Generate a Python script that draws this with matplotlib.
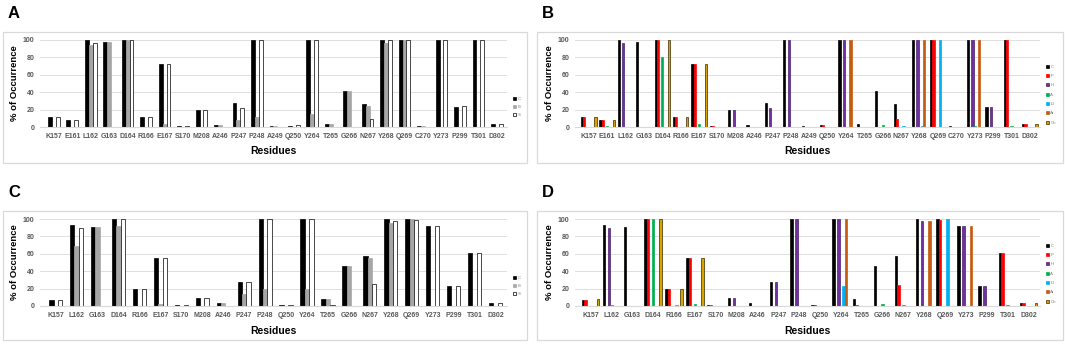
import matplotlib.pyplot as plt
from matplotlib.patches import Rectangle
import numpy as np

plt.rcParams['font.family'] = ['Liberation Sans', 'DejaVu Sans']

# residues for panels A/B and C/D
res_ab = ["K157", "E161", "L162", "G163", "D164", "R166", "E167", "S170", "M208", "A246",
          "P247", "P248", "A249", "Q250", "Y264", "T265", "G266", "N267", "Y268", "Q269",
          "C270", "Y273", "P299", "T301", "D302"]
res_cd = ["K157", "L162", "G163", "D164", "R166", "E167", "S170", "M208", "A246", "P247",
          "P248", "Q250", "Y264", "T265", "G266", "N267", "Y268", "Q269", "Y273", "P299",
          "T301", "D302"]

# panel A: contact / backbone / side chain
a_C = [11, 8, 100, 98, 100, 12, 72, 1, 20, 2, 28, 100, 1, 1, 100, 3, 41, 26, 100, 100, 1, 100, 23, 100, 3]
a_B = [0, 0, 94, 98, 100, 0, 3, 0, 0, 2, 8, 11, 1, 0, 15, 3, 41, 24, 97, 100, 1, 0, 0, 0, 0]
a_S = [11, 8, 96, 0, 100, 12, 72, 1, 20, 0, 22, 100, 0, 2, 100, 0, 0, 9, 100, 100, 0, 100, 24, 100, 3]

# panel B: interaction types
b_C = [11, 8, 100, 98, 100, 12, 72, 1, 20, 2, 28, 100, 1, 2, 100, 3, 41, 26, 100, 100, 1, 100, 23, 100, 3]
b_P = [11, 8, 0, 0, 100, 12, 72, 1, 0, 0, 0, 0, 0, 2, 0, 0, 0, 9, 0, 100, 0, 0, 0, 100, 3]
b_H = [0, 0, 96, 0, 0, 0, 0, 0, 20, 0, 22, 100, 0, 0, 100, 0, 0, 0, 100, 0, 0, 100, 23, 0, 0]
b_A = [0, 1, 0, 0, 81, 0, 3, 0, 0, 0, 0, 0, 0, 0, 0, 0, 2, 0, 0, 0, 0, 1, 0, 1, 0]
b_D = [0, 0, 0, 0, 0, 0, 0, 0, 0, 0, 0, 0, 0, 0, 0, 0, 0, 1, 1, 100, 0, 0, 0, 0, 0]
b_Ar = [0, 0, 0, 0, 0, 0, 0, 0, 0, 0, 0, 0, 0, 0, 100, 0, 0, 0, 100, 0, 0, 100, 0, 0, 0]
b_Ch = [11, 8, 0, 0, 100, 12, 72, 0, 0, 0, 0, 0, 0, 0, 0, 0, 0, 0, 0, 0, 0, 0, 0, 0, 3]

# panel C: contact / backbone / side chain
c_C = [7, 93, 91, 100, 20, 55, 1, 9, 3, 28, 100, 1, 100, 8, 46, 58, 100, 100, 92, 23, 61, 3]
c_B = [0, 69, 91, 92, 0, 2, 0, 0, 3, 14, 20, 0, 20, 8, 46, 55, 95, 100, 0, 0, 0, 0]
c_S = [7, 90, 0, 100, 20, 55, 1, 9, 0, 28, 100, 1, 100, 1, 0, 25, 98, 99, 92, 23, 61, 3]

# panel D: interaction types
d_C = [7, 93, 91, 100, 20, 55, 1, 9, 3, 28, 100, 1, 100, 8, 46, 58, 100, 100, 92, 23, 61, 3]
d_P = [7, 0, 0, 100, 20, 55, 1, 0, 0, 0, 0, 1, 0, 1, 0, 24, 0, 99, 0, 0, 61, 3]
d_H = [0, 90, 0, 0, 0, 0, 0, 9, 0, 28, 100, 0, 100, 0, 0, 0, 98, 0, 92, 23, 0, 0]
d_A = [0, 1, 0, 100, 0, 2, 0, 0, 0, 0, 0, 0, 0, 0, 2, 1, 0, 0, 0, 0, 1, 0]
d_D = [0, 0, 0, 0, 1, 0, 0, 0, 0, 0, 0, 0, 23, 0, 0, 0, 0, 100, 0, 0, 0, 0]
d_Ar = [0, 0, 0, 0, 0, 0, 0, 0, 0, 0, 0, 0, 100, 0, 0, 0, 98, 0, 92, 0, 0, 0]
d_Ch = [8, 0, 0, 100, 20, 55, 0, 0, 0, 0, 0, 0, 0, 0, 0, 0, 0, 0, 0, 0, 0, 3]

labels3 = ["C", "B", "S"]
styles3 = [dict(color="black", edgecolor="black"),
           dict(color="#a6a6a6", edgecolor="#a6a6a6"),
           dict(color="white", edgecolor="black")]
labels7 = ["C", "P", "H", "A", "D", "Ar", "Ch"]
styles7 = [dict(color="black", edgecolor="black"),
           dict(color="#ff0000", edgecolor="#ff0000"),
           dict(color="#7030a0", edgecolor="#4b1f6e"),
           dict(color="#00b050", edgecolor="#00b050"),
           dict(color="#00b0f0", edgecolor="#00b0f0"),
           dict(color="#c55a11", edgecolor="#c55a11"),
           dict(color="#d9a300", edgecolor="#3a2a00")]

fig = plt.figure(figsize=(10.65, 3.44), dpi=100)
W, H = 1065, 344


def panel(rect_px, box_px, letter, cats, series, labels, styles, width, legend_y):
    x0, y0, x1, y1 = rect_px
    ax = fig.add_axes([x0 / W, 1 - y1 / H, (x1 - x0) / W, (y1 - y0) / H])
    bx0, by0, bx1, by1 = box_px
    fig.patches.append(Rectangle((bx0 / W, 1 - by1 / H), (bx1 - bx0) / W, (by1 - by0) / H,
                                 transform=fig.transFigure, fill=False,
                                 edgecolor="#d9d9d9", linewidth=0.9))
    fig.text((bx0 + 5) / W, 1 - (by0 - 26) / H, letter, fontsize=12, fontweight="bold",
             va="top", ha="left")
    x = np.arange(len(cats))
    n = len(series)
    for i, (vals, lab, st) in enumerate(zip(series, labels, styles)):
        ax.bar(x + (i - (n - 1) / 2) * width, vals, width, label=lab,
               linewidth=0.5, **st)
    ax.set_ylim(0, 100)
    ax.set_xlim(-0.75, len(cats) - 0.45)
    ax.set_yticks(range(0, 101, 20))
    ax.set_xticks(x)
    ax.set_xticklabels(cats)
    ax.tick_params(length=0, labelsize=5.0, labelcolor="#595959", pad=4)
    for t in ax.get_xticklabels() + ax.get_yticklabels():
        t.set_fontweight("bold")
    ax.grid(axis="y", color="#d9d9d9", linewidth=0.6)
    ax.set_axisbelow(True)
    for s in ["top", "right", "left"]:
        ax.spines[s].set_visible(False)
    ax.spines["bottom"].set_color("#d9d9d9")
    ax.set_ylabel("% of Occurrence", fontsize=6.8, fontweight="bold", labelpad=3)
    ax.set_xlabel("Residues", fontsize=7.5, fontweight="bold", labelpad=5)
    ax.legend(loc="center left", bbox_to_anchor=(1.005, legend_y), frameon=False,
              fontsize=3.2, labelcolor="#808080", handlelength=0.6, handleheight=0.6,
              handletextpad=0.3, labelspacing=1.2 if n > 3 else 0.9)
    return ax


panel((40, 40, 507, 127), (3, 32, 527, 163), "A", res_ab,
      [a_C, a_B, a_S], labels3, styles3, 0.21, 0.23)
panel((575, 40, 1040, 127), (537, 32, 1063, 163), "B", res_ab,
      [b_C, b_P, b_H, b_A, b_D, b_Ar, b_Ch], labels7, styles7, 0.12, 0.37)
panel((40, 219, 507, 306), (3, 211, 527, 340), "C", res_cd,
      [c_C, c_B, c_S], labels3, styles3, 0.21, 0.23)
panel((575, 219, 1040, 306), (537, 211, 1063, 340), "D", res_cd,
      [d_C, d_P, d_H, d_A, d_D, d_Ar, d_Ch], labels7, styles7, 0.12, 0.37)

fig.savefig("out.png", dpi=100)
